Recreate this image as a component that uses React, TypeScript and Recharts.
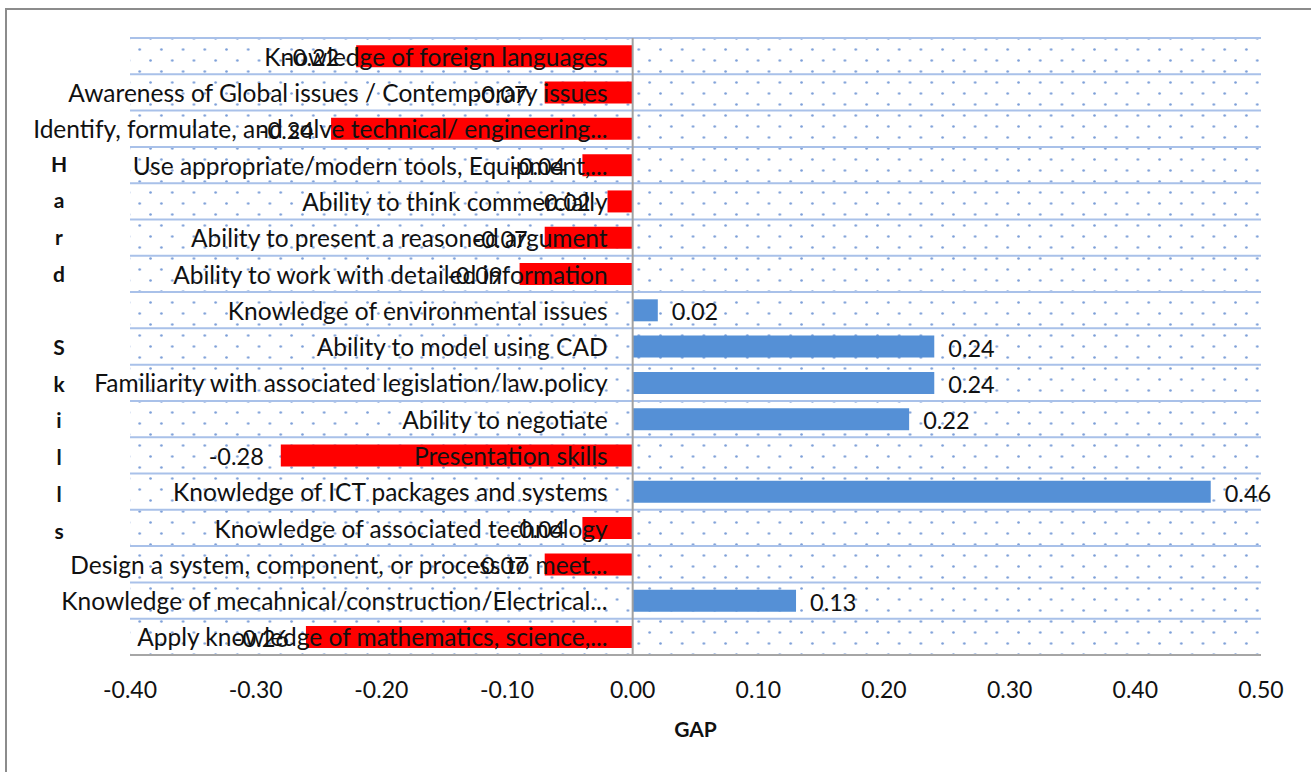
import {
  Bar,
  BarChart,
  CartesianGrid,
  Cell,
  LabelList,
  ReferenceLine,
  XAxis,
  YAxis,
} from "recharts";

const skills = [
  "Knowledge of foreign languages",
  "Awareness of Global issues / Contemporary issues",
  "Identify, formulate, and solve technical/ engineering...",
  "Use appropriate/modern tools, Equipment,...",
  "Ability to think commercially",
  "Ability to present a reasoned argument",
  "Ability to work with detailed information",
  "Knowledge of environmental issues",
  "Ability to model using CAD",
  "Familiarity with associated legislation/law.policy",
  "Ability to negotiate",
  "Presentation skills",
  "Knowledge of ICT packages and systems",
  "Knowledge of associated technology",
  "Design a system, component, or process to meet...",
  "Knowledge of mecahnical/construction/Electrical...",
  "Apply knowledge of mathematics, science,...",
];

const gaps = [
  -0.22, -0.07, -0.24, -0.04, -0.02, -0.07, -0.09, 0.02, 0.24, 0.24, 0.22,
  -0.28, 0.46, -0.04, -0.07, 0.13, -0.26,
];

const gapTicks = [-0.4, -0.3, -0.2, -0.1, 0, 0.1, 0.2, 0.3, 0.4, 0.5];

const titleLetters = ["H", "a", "r", "d", "", "S", "k", "i", "l", "l", "s"];

const data = skills.map((skill, i) => ({ skill, gap: gaps[i] }));

const FONT = "Lato, 'Open Sans', sans-serif";

// bar rectangle, whichever way recharts hands negative widths over
function barBox(p: any) {
  const vb = p.viewBox ?? p;
  const x = Number(vb.x);
  const w = Number(vb.width);
  return {
    left: Math.min(x, x + w),
    right: Math.max(x, x + w),
    cy: Number(vb.y) + Number(vb.height) / 2,
  };
}

function SkillName(p: any) {
  const b = barBox(p);
  const zero = gaps[p.index] < 0 ? b.right : b.left;
  return (
    <text
      x={zero - 25}
      y={b.cy}
      textAnchor="end"
      dominantBaseline="central"
      fontFamily={FONT}
      fontSize={24.5}
      fill="#111"
    >
      {skills[p.index]}
    </text>
  );
}

function GapValue(p: any) {
  const b = barBox(p);
  const v = gaps[p.index];
  return (
    <text
      x={v < 0 ? b.left - 17 : b.right + 14}
      y={b.cy + 1}
      textAnchor={v < 0 ? "end" : "start"}
      dominantBaseline="central"
      fontFamily={FONT}
      fontSize={23.5}
      fill="#111"
    >
      {v.toFixed(2)}
    </text>
  );
}

function SideTitle(p: any) {
  const vb = p.viewBox;
  const cy = vb.y + vb.height / 2;
  const mid = (titleLetters.length - 1) / 2;
  return (
    <g>
      {titleLetters.map((ch, i) => (
        <text
          key={i}
          x={vb.x + 59}
          y={cy + (i - mid) * 36.7}
          textAnchor="middle"
          dominantBaseline="central"
          fontFamily={FONT}
          fontWeight={700}
          fontSize={21}
          fill="#111"
        >
          {ch}
        </text>
      ))}
    </g>
  );
}

export default function App() {
  return (
    <div style={{ position: "absolute", left: 0, top: 0, width: 1311, height: 772, background: "#fff", overflow: "hidden" }}>
      <div
        style={{
          position: "absolute",
          left: 5,
          top: 8,
          width: 1320,
          height: 780,
          border: "2px solid #8c8c8c",
        }}
      />
      <div style={{ position: "absolute", left: 0, top: 0 }}>
        <BarChart
          width={1311}
          height={772}
          data={data}
          layout="vertical"
          margin={{ top: 38, right: 50, bottom: 27, left: 0 }}
          barCategoryGap="20%"
        >
          <defs>
            <pattern id="dots" width={21.7} height={22} patternUnits="userSpaceOnUse" x={8} y={4}>
              <circle cx={1.5} cy={1.5} r={1.3} fill="#7d9fd8" />
              <circle cx={12.35} cy={12.5} r={1.3} fill="#7d9fd8" />
            </pattern>
          </defs>
          <CartesianGrid
            vertical={false}
            stroke="#a9c1e9"
            strokeWidth={2}
            fill="url(#dots)"
            fillOpacity={1}
            horizontalCoordinatesGenerator={({ offset }: any) =>
              Array.from({ length: skills.length }, (_, i) => offset.top + (offset.height * i) / skills.length)
            }
          />
          <XAxis
            type="number"
            domain={[-0.4, 0.5]}
            ticks={gapTicks}
            tickFormatter={(v: number) => v.toFixed(2)}
            height={90}
            axisLine={{ stroke: "#a6a6a6", strokeWidth: 2 }}
            tickLine={false}
            tickMargin={21}
            tick={{ fontFamily: FONT, fontSize: 23, fill: "#111" }}
            label={{
              value: "GAP",
              position: "insideBottom",
              offset: 8,
              style: { fontFamily: FONT, fontSize: 21, fontWeight: 700, fill: "#111" },
            }}
          />
          <YAxis
            type="category"
            dataKey="skill"
            width={130}
            tick={false}
            tickLine={false}
            axisLine={false}
            label={{ content: SideTitle }}
          />
          <ReferenceLine x={0} stroke="#a0a0a0" strokeWidth={2} />
          <Bar dataKey="gap" isAnimationActive={false}>
            {data.map((d, i) => (
              <Cell key={i} fill={d.gap < 0 ? "#ff0000" : "#5590d6"} />
            ))}
            <LabelList dataKey="skill" content={SkillName} />
            <LabelList dataKey="gap" content={GapValue} />
          </Bar>
        </BarChart>
      </div>
    </div>
  );
}
